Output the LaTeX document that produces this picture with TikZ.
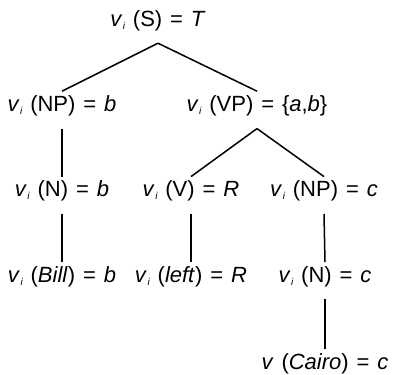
\documentclass[tikz,border=0pt]{standalone}
\usepackage{fontspec}
\setmainfont{Liberation Sans}
\usepackage{tikz}
\usetikzlibrary{positioning}

\newcommand{\vi}{\textit{v}\raisebox{-3pt}{\kern0.5pt\fontsize{10}{12}\selectfont\itshape i}}
\newcommand{\lblfont}{\fontsize{22}{26}\selectfont\spaceskip=0.36em\relax}

\begin{document}
\begin{tikzpicture}[
  x=1pt, y=1pt,
  node distance=48pt,
  lbl/.style={inner sep=0pt, text height=20pt, text depth=17pt, font=\lblfont},
  branch/.style={line width=1.5pt}
]
\useasboundingbox (0,0) rectangle (394,-375);
\node (root) [lbl, anchor=base] at (158,-26) {\vi{} (S) = \textit{T}};
\node (np) [lbl, below=of root, xshift=-96pt] {\vi{} (NP) = \textit{b}};
\node (vp) [lbl, below=of root, xshift=99pt] {\vi{} (VP) = \{\textit{a},\textit{b}\}};
\node (nb) [lbl, below=of np] {\vi{} (N) = \textit{b}};
\node (v) [lbl, below=of vp, xshift=-66pt] {\vi{} (V) = \textit{R}};
\node (npc) [lbl, below=of vp, xshift=67pt] {\vi{} (NP) = \textit{c}};
\node (bill) [lbl, below=of nb] {\vi{} (\textit{Bill}) = \textit{b}};
\node (left) [lbl, below=of v] {\vi{} (\textit{left}) = \textit{R}};
\node (nc) [lbl, below=of npc, xshift=1pt] {\vi{} (N) = \textit{c}};
\node (cairo) [lbl, below=50pt of nc] {\textit{v} (\textit{Cairo}) = \textit{c}};
\draw [branch] (root.south) -- (np.north);
\draw [branch] (root.south) -- (vp.north);
\draw [branch] (np.south) -- (nb.north);
\draw [branch] (vp.south) -- (v.north);
\draw [branch] (vp.south) -- (npc.north);
\draw [branch] (nb.south) -- (bill.north);
\draw [branch] (v.south) -- (left.north);
\draw [branch] (npc.south) -- (nc.north);
\draw [branch] (nc.south) -- (cairo.north);
\end{tikzpicture}
\end{document}
